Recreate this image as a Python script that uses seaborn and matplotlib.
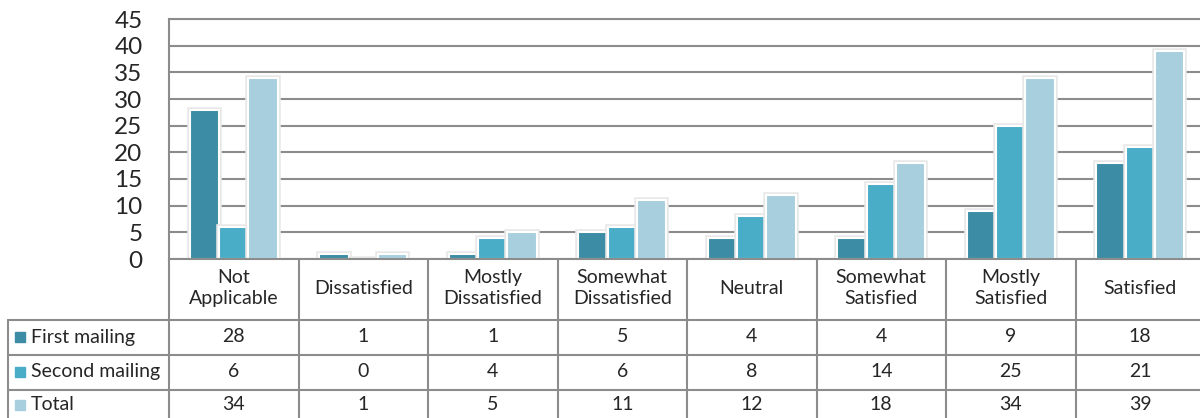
import pandas as pd
import matplotlib
matplotlib.use("Agg")
import matplotlib.pyplot as plt
import matplotlib.patheffects as pe
import seaborn as sns

categories = ["Not\nApplicable", "Dissatisfied", "Mostly\nDissatisfied", "Somewhat\nDissatisfied",
              "Neutral", "Somewhat\nSatisfied", "Mostly\nSatisfied", "Satisfied"]
series = ["First mailing", "Second mailing", "Total"]
first_mailing = [28, 1, 1, 5, 4, 4, 9, 18]
second_mailing = [6, 0, 4, 6, 8, 14, 25, 21]
total = [34, 1, 5, 11, 12, 18, 34, 39]
colors = ["#3b8ca4", "#4aadc7", "#a8cfde"]
y_ticks = [0, 5, 10, 15, 20, 25, 30, 35, 40, 45]

values = [first_mailing, second_mailing, total]
rows = []
for s, vals in zip(series, values):
    for c, v in zip(categories, vals):
        rows.append({"categoria": c, "serie": s, "valor": v})
df = pd.DataFrame(rows)

sns.set_style("white")
plt.rcParams["font.family"] = ["Lato", "DejaVu Sans"]

W, H = 1200, 418
fig = plt.figure(figsize=(W / 100, H / 100), dpi=100)
# plot area in pixels
left, top, bottom, right = 169, 19, 259, 1205
ax = fig.add_axes([left / W, 1 - bottom / H, (right - left) / W, (bottom - top) / H])

sns.barplot(data=df, x="categoria", y="valor", hue="serie", palette=colors, saturation=1,
            width=0.68, ax=ax, legend=False, edgecolor="white", linewidth=1.5)
for p in ax.patches:
    p.set_path_effects([pe.Stroke(linewidth=4, foreground="#e8e8e8"), pe.Normal()])

grid_c = "#8c8c8c"
ax.set_ylim(0, 45)
ax.set_xlim(-0.5, len(categories) - 0.5)
ax.set_yticks(y_ticks)
ax.set_yticklabels([str(t) for t in y_ticks], fontsize=17.5)
ax.tick_params(axis="y", length=0, pad=19)
ax.set_xticks([])
ax.set_xlabel("")
ax.set_ylabel("")
ax.yaxis.grid(True, color=grid_c, linewidth=1.5)
ax.set_axisbelow(True)
for sp in ax.spines.values():
    sp.set_color(grid_c)
    sp.set_linewidth(1.5)
ax.spines["right"].set_visible(False)

# data table below the plot
cw = (right - left) / len(categories)
def px_x(px):
    return -0.5 + (px - left) / cw
def px_y(py):
    return (bottom - py) / (bottom - top)

tr = ax.get_xaxis_transform()
row_lines = [320, 355, 390]
row_centers = [337, 372, 405]
x0 = px_x(8)
x1 = len(categories) - 0.5
lk = dict(color=grid_c, linewidth=1.5, transform=tr, clip_on=False)
for i in range(len(categories) + 1):
    ax.plot([i - 0.5, i - 0.5], [px_y(bottom), px_y(H + 5)], **lk)
ax.plot([x0, x0], [px_y(320), px_y(H + 5)], **lk)
for yl in row_lines:
    ax.plot([x0, x1], [px_y(yl), px_y(yl)], **lk)

fs = 14
for i, c in enumerate(categories):
    ax.text(i, px_y(288), c, ha="center", va="center", fontsize=fs,
            linespacing=1.35, transform=tr, clip_on=False)

for s, vals, col, yc in zip(series, values, colors, row_centers):
    ax.add_patch(plt.Rectangle((px_x(15), px_y(yc + 5)), 10 / cw, 10 / (bottom - top),
                               color=col, transform=tr, clip_on=False))
    ax.text(px_x(31), px_y(yc), s, ha="left", va="center", fontsize=fs,
            transform=tr, clip_on=False)
    for i, v in enumerate(vals):
        ax.text(i, px_y(yc), str(v), ha="center", va="center", fontsize=fs,
                transform=tr, clip_on=False)

fig.savefig("out.png", dpi=100)
